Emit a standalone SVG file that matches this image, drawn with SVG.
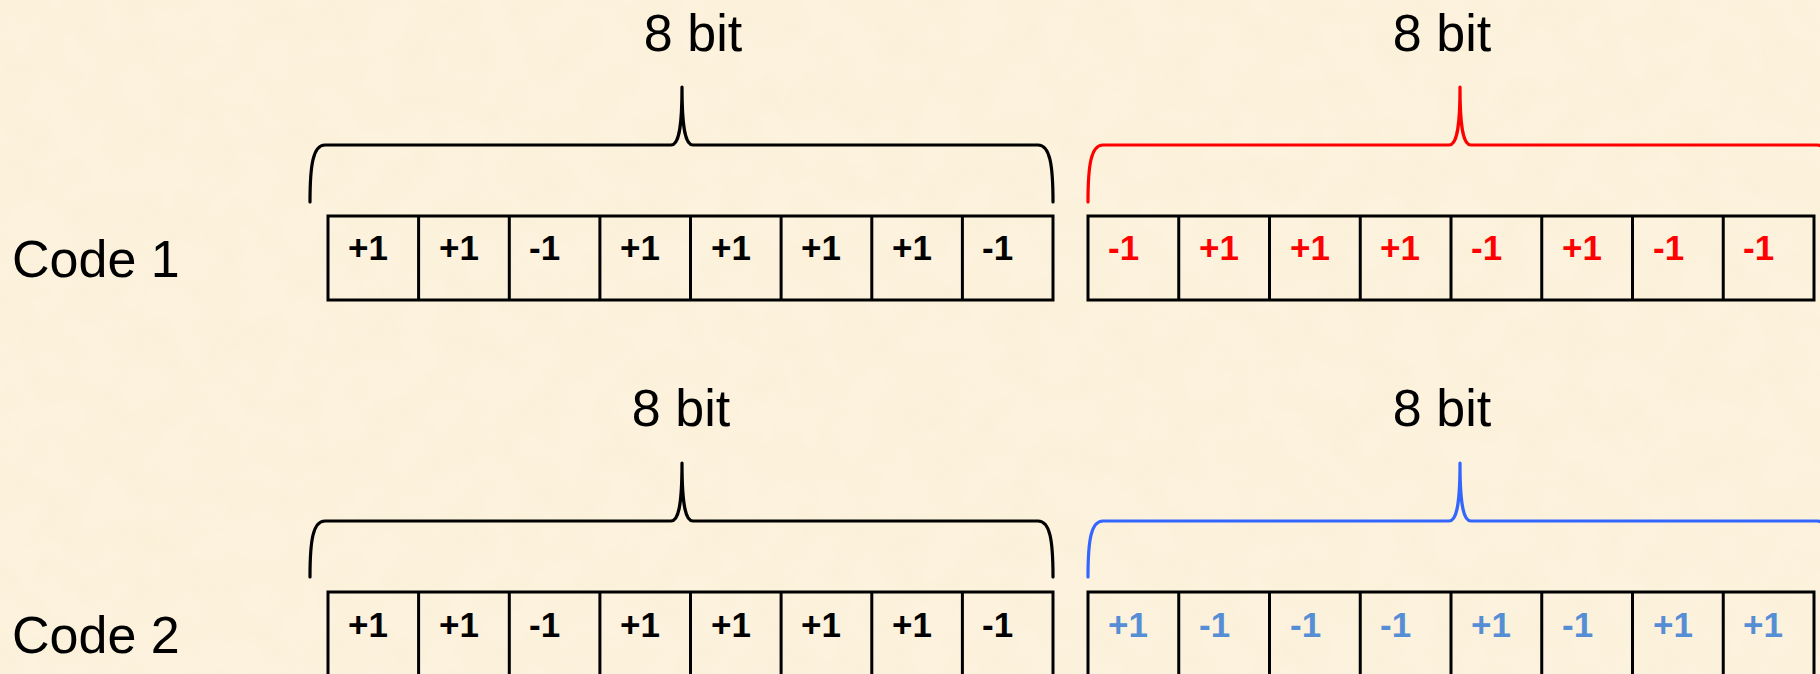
<svg xmlns="http://www.w3.org/2000/svg" width="1820" height="674" viewBox="0 0 1820 674">
<defs>
<filter id="paper" x="0" y="0" width="1820" height="674" filterUnits="userSpaceOnUse">
<feTurbulence type="fractalNoise" baseFrequency="0.025" numOctaves="3" seed="7" result="n"/>
<feColorMatrix in="n" type="matrix" values="0 0 0 0 0.96  0 0 0 0 0.87  0 0 0 0 0.66  1.6 0 0 0 -0.6"/>
</filter>
<style>
.lbl{font-family:"Liberation Sans",Arial,sans-serif;font-size:52px;fill:#000}
.bit{font-family:"Liberation Sans",Arial,sans-serif;font-size:35px;font-weight:bold}
.k{fill:#000}
.r{fill:#FF0000}
.b{fill:#558ED5}
.box{fill:none;stroke:#000;stroke-width:3}
.brace{fill:none;stroke-width:3.2;stroke-linecap:round;stroke-linejoin:round}
</style>
</defs>
<rect width="1820" height="674" fill="#FCF2DD"/>
<rect width="1820" height="674" filter="url(#paper)" opacity="0.5"/>

<g id="code1">
<text id="code1-label" class="lbl" x="12" y="277">Code 1</text>
<g id="code1-block1">
<text class="lbl" x="693" y="51" text-anchor="middle">8 bit</text>
<path class="brace" stroke="#000" d="M310,202 C310,165 313,145 325,145 L671,145 C678,145 682,132 682,87 C682,132 686,145 693,145 L1038,145 C1050,145 1053,165 1053,202"/>
<rect class="box" x="328" y="216" width="725" height="84"/>
<path class="box" d="M418.6,216V300M509.3,216V300M599.9,216V300M690.5,216V300M781.1,216V300M871.8,216V300M962.4,216V300"/>
<g class="bit k">
<text x="348" y="260">+1</text><text x="439" y="260">+1</text><text x="529" y="260">-1</text><text x="620" y="260">+1</text>
<text x="711" y="260">+1</text><text x="801" y="260">+1</text><text x="892" y="260">+1</text><text x="982" y="260">-1</text>
</g>
</g>
<g id="code1-block2">
<text class="lbl" x="1442" y="51" text-anchor="middle">8 bit</text>
<path class="brace" stroke="#FF0000" d="M1088,202 C1088,165 1091,145 1103,145 L1449,145 C1456,145 1460,132 1460,87 C1460,132 1464,145 1471,145 L1817,145 C1829,145 1832,165 1832,202"/>
<rect class="box" x="1088" y="216" width="726" height="84"/>
<path class="box" d="M1178.75,216V300M1269.5,216V300M1360.25,216V300M1451,216V300M1541.75,216V300M1632.5,216V300M1723.25,216V300"/>
<g class="bit r">
<text x="1108" y="260">-1</text><text x="1199" y="260">+1</text><text x="1290" y="260">+1</text><text x="1380" y="260">+1</text>
<text x="1471" y="260">-1</text><text x="1562" y="260">+1</text><text x="1653" y="260">-1</text><text x="1743" y="260">-1</text>
</g>
</g>
</g>

<g id="code2">
<text id="code2-label" class="lbl" x="12" y="653">Code 2</text>
<g id="code2-block1">
<text class="lbl" x="681" y="426" text-anchor="middle">8 bit</text>
<path class="brace" stroke="#000" d="M310,577 C310,540 313,521 325,521 L671,521 C678,521 682,508 682,463 C682,508 686,521 693,521 L1038,521 C1050,521 1053,540 1053,577"/>
<rect class="box" x="328" y="592" width="725" height="84"/>
<path class="box" d="M418.6,592V676M509.3,592V676M599.9,592V676M690.5,592V676M781.1,592V676M871.8,592V676M962.4,592V676"/>
<g class="bit k">
<text x="348" y="637">+1</text><text x="439" y="637">+1</text><text x="529" y="637">-1</text><text x="620" y="637">+1</text>
<text x="711" y="637">+1</text><text x="801" y="637">+1</text><text x="892" y="637">+1</text><text x="982" y="637">-1</text>
</g>
</g>
<g id="code2-block2">
<text class="lbl" x="1442" y="426" text-anchor="middle">8 bit</text>
<path class="brace" stroke="#3366FF" d="M1088,577 C1088,540 1091,521 1103,521 L1449,521 C1456,521 1460,508 1460,463 C1460,508 1464,521 1471,521 L1817,521 C1829,521 1832,540 1832,577"/>
<rect class="box" x="1088" y="592" width="726" height="84"/>
<path class="box" d="M1178.75,592V676M1269.5,592V676M1360.25,592V676M1451,592V676M1541.75,592V676M1632.5,592V676M1723.25,592V676"/>
<g class="bit b">
<text x="1108" y="637">+1</text><text x="1199" y="637">-1</text><text x="1290" y="637">-1</text><text x="1380" y="637">-1</text>
<text x="1471" y="637">+1</text><text x="1562" y="637">-1</text><text x="1653" y="637">+1</text><text x="1743" y="637">+1</text>
</g>
</g>
</g>

<g id="connectors"/>
</svg>
